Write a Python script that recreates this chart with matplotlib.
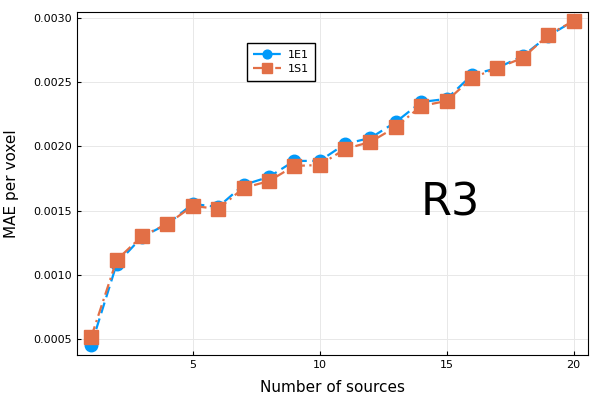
import matplotlib
matplotlib.use('Agg')
import matplotlib.pyplot as plt

n_sources = list(range(1, 21))
mae_1e1 = [0.000453, 0.001084, 0.001295, 0.001396, 0.001552, 0.001528, 0.001700, 0.001762,
           0.001887, 0.001887, 0.002019, 0.002066, 0.002190, 0.002346, 0.002370, 0.002557,
           0.002611, 0.002705, 0.002860, 0.002977]
mae_1s1 = [0.000516, 0.001115, 0.001302, 0.001396, 0.001536, 0.001513, 0.001676, 0.001730,
           0.001848, 0.001855, 0.001980, 0.002035, 0.002151, 0.002315, 0.002354, 0.002533,
           0.002611, 0.002689, 0.002868, 0.002977]
xticks = [5, 10, 15, 20]
yticks = [0.0005, 0.0010, 0.0015, 0.0020, 0.0025, 0.0030]

fig = plt.figure(figsize=(6, 4), dpi=100)
ax = fig.add_axes([0.128, 0.1125, 0.852, 0.8575])

ax.plot(n_sources, mae_1e1, color='#009AFA', linestyle=(0, (5, 2.5)), linewidth=1.6,
        marker='o', markersize=9, label='1E1')
ax.plot(n_sources, mae_1s1, color='#E26F46', linestyle=(0, (5, 2, 1, 2)), linewidth=1.6,
        marker='s', markersize=10, label='1S1')

ax.text(15.16, 0.00156, 'R3', fontsize=32, ha='center', va='center')

ax.set_xlim(0.43, 20.57)
ax.set_ylim(0.000375, 0.003047)
ax.set_xticks(xticks)
ax.set_yticks(yticks)
ax.set_yticklabels([f'{v:.4f}' for v in yticks])
ax.tick_params(direction='in', labelsize=8, length=3)
ax.grid(color='#e8e8e8', linewidth=0.7)
ax.set_axisbelow(True)
ax.set_xlabel('Number of sources', fontsize=11, labelpad=7)
ax.set_ylabel('MAE per voxel', fontsize=11)
ax.yaxis.set_label_coords(-0.114, 0.5)

leg = ax.legend(loc='upper left', bbox_to_anchor=(0.332, 0.91), fontsize=8, fancybox=False,
                framealpha=1, handlelength=2.5, handletextpad=0.6, borderpad=0.6,
                labelspacing=0.4, markerscale=0.7, borderaxespad=0)
leg.get_frame().set_edgecolor('black')

fig.savefig('out.png')
